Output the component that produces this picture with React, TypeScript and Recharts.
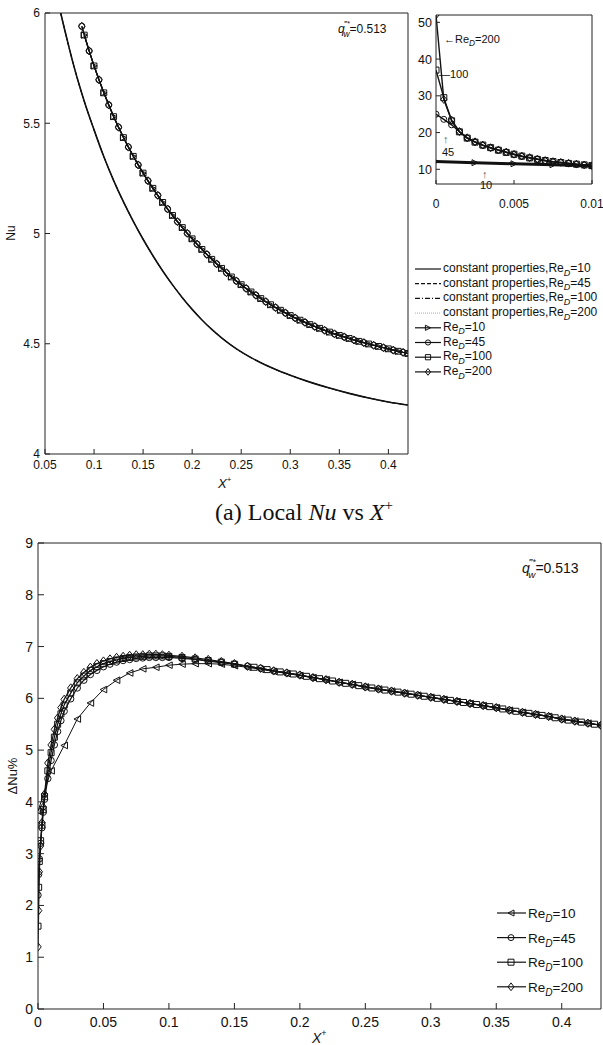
import React from "react";
import { LineChart, Line, XAxis, YAxis } from "recharts";

const FONT = "Arial, 'Liberation Sans', Helvetica, sans-serif";
const SERIF = "'Times New Roman', 'Liberation Serif', serif";
const INK = "#111";
const AXIS = "#222";

// ---- (a) Local Nu vs X+ ----
const nuTicksX = [0.05, 0.1, 0.15, 0.2, 0.25, 0.3, 0.35, 0.4];
const nuTicksY = [4, 4.5, 5, 5.5, 6];

// constant-property curves: all four Re_D fall on this one line
const constX = [0.066, 0.07, 0.075, 0.08, 0.085, 0.09, 0.1, 0.11, 0.12, 0.13, 0.14, 0.15, 0.16, 0.17, 0.18, 0.19, 0.2, 0.21, 0.22, 0.23, 0.24, 0.25, 0.26, 0.27, 0.28, 0.29, 0.3, 0.32, 0.34, 0.36, 0.38, 0.4, 0.42];
const constNu = [6.0, 5.925, 5.835, 5.75, 5.672, 5.6, 5.47, 5.348, 5.24, 5.143, 5.055, 4.974, 4.899, 4.83, 4.767, 4.709, 4.656, 4.608, 4.565, 4.527, 4.493, 4.463, 4.437, 4.414, 4.393, 4.374, 4.357, 4.326, 4.299, 4.275, 4.254, 4.236, 4.222];

// variable-property curves (markers), two interleaved sample grids
const varXA = [0.09, 0.1, 0.11, 0.12, 0.13, 0.14, 0.15, 0.16, 0.17, 0.18, 0.19, 0.2, 0.21, 0.22, 0.23, 0.24, 0.25, 0.26, 0.27, 0.28, 0.29, 0.3, 0.31, 0.32, 0.33, 0.34, 0.35, 0.36, 0.37, 0.38, 0.39, 0.4, 0.41, 0.42];
const varNuA = [5.9, 5.76, 5.638, 5.53, 5.435, 5.35, 5.274, 5.205, 5.141, 5.082, 5.027, 4.976, 4.928, 4.883, 4.842, 4.803, 4.768, 4.735, 4.705, 4.677, 4.652, 4.628, 4.607, 4.587, 4.57, 4.553, 4.538, 4.524, 4.511, 4.499, 4.488, 4.477, 4.466, 4.456];
const varXB = [0.0875, 0.095, 0.105, 0.115, 0.125, 0.135, 0.145, 0.155, 0.165, 0.175, 0.185, 0.195, 0.205, 0.215, 0.225, 0.235, 0.245, 0.255, 0.265, 0.275, 0.285, 0.295, 0.305, 0.315, 0.325, 0.335, 0.345, 0.355, 0.365, 0.375, 0.385, 0.395, 0.405, 0.415];
const varNuB = [5.94, 5.828, 5.697, 5.583, 5.482, 5.392, 5.311, 5.239, 5.173, 5.111, 5.054, 5.001, 4.952, 4.905, 4.862, 4.822, 4.785, 4.751, 4.72, 4.691, 4.664, 4.64, 4.617, 4.597, 4.578, 4.561, 4.545, 4.531, 4.517, 4.505, 4.493, 4.482, 4.471, 4.461];

// inset: entrance region
const insetTicksX = [0, 0.005, 0.01];
const insetTicksY = [10, 20, 30, 40, 50];
const insetX = [0, 0.0005, 0.001, 0.0015, 0.002, 0.0025, 0.003, 0.0035, 0.004, 0.0045, 0.005, 0.0055, 0.006, 0.0065, 0.007, 0.0075, 0.008, 0.0085, 0.009, 0.0095, 0.01];
const insetNu200 = [52, 29, 23.4, 20.3, 18.6, 17.5, 16.6, 15.9, 15.3, 14.7, 14.1, 13.6, 13.2, 12.8, 12.4, 12.1, 11.9, 11.65, 11.4, 11.2, 11.0];
const insetNu100 = [37, 29.5, 23.2, 20.2, 18.5, 17.4, 16.6, 15.9, 15.2, 14.6, 14.1, 13.6, 13.1, 12.7, 12.4, 12.1, 11.85, 11.6, 11.4, 11.2, 11.0];
const insetNu45 = [25, 23.6, 22.1, 20.2, 18.5, 17.4, 16.5, 15.8, 15.2, 14.6, 14.0, 13.5, 13.1, 12.7, 12.3, 12.0, 11.8, 11.6, 11.35, 11.15, 10.95];
const insetX10 = [0, 0.0025, 0.005, 0.0075, 0.01];
const insetNu10 = [12.1, 11.8, 11.5, 11.25, 11.0];

// ---- ΔNu% vs X+ ----
const dTicksX = [0, 0.05, 0.1, 0.15, 0.2, 0.25, 0.3, 0.35, 0.4];
const dTicksY = [0, 1, 2, 3, 4, 5, 6, 7, 8, 9];
const dX10 = [0, 0.01, 0.02, 0.03, 0.04, 0.05, 0.06, 0.07, 0.08, 0.09, 0.1, 0.11, 0.12, 0.13, 0.14, 0.15, 0.16, 0.17, 0.18, 0.19, 0.2, 0.21, 0.22, 0.23, 0.24, 0.25, 0.26, 0.27, 0.28, 0.29, 0.3, 0.31, 0.32, 0.33, 0.34, 0.35, 0.36, 0.37, 0.38, 0.39, 0.4, 0.41, 0.42, 0.43];
const dNu10 = [3.82, 4.6, 5.09, 5.6, 5.91, 6.17, 6.35, 6.49, 6.57, 6.6, 6.64, 6.66, 6.67, 6.67, 6.66, 6.63, 6.6, 6.56, 6.52, 6.48, 6.44, 6.4, 6.36, 6.31, 6.27, 6.22, 6.18, 6.14, 6.1, 6.06, 6.02, 5.98, 5.94, 5.9, 5.86, 5.82, 5.77, 5.73, 5.69, 5.65, 5.6, 5.56, 5.52, 5.48];
// near the wall
const dXHead = [0, 0.0005, 0.001, 0.002, 0.003, 0.004, 0.005];
const dNuHead45 = [2.2, 2.6, 2.9, 3.2, 3.5, 3.8, 4.05];
const dNuHead100 = [1.6, 2.35, 2.85, 3.25, 3.55, 3.85, 4.1];
const dNuHead200 = [1.2, 1.9, 2.65, 3.15, 3.6, 3.9, 4.15];
// rise and peak
const dXMid = [0.0075, 0.01, 0.0125, 0.015, 0.0175, 0.02, 0.025, 0.03, 0.035, 0.04, 0.045, 0.05, 0.055, 0.06, 0.065, 0.07, 0.075, 0.08, 0.085, 0.09, 0.095, 0.1, 0.11, 0.12, 0.13, 0.14, 0.15];
const dNuMid45 = [4.45, 4.8, 5.1, 5.36, 5.57, 5.75, 5.99, 6.2, 6.35, 6.46, 6.54, 6.61, 6.66, 6.7, 6.73, 6.75, 6.77, 6.78, 6.79, 6.79, 6.79, 6.79, 6.77, 6.75, 6.72, 6.69, 6.66];
const dNuMid100 = [4.6, 4.95, 5.25, 5.5, 5.7, 5.87, 6.1, 6.3, 6.43, 6.54, 6.61, 6.67, 6.71, 6.74, 6.77, 6.79, 6.8, 6.81, 6.82, 6.82, 6.82, 6.81, 6.79, 6.76, 6.73, 6.7, 6.66];
const dNuMid200 = [4.75, 5.1, 5.4, 5.62, 5.82, 5.98, 6.2, 6.38, 6.5, 6.6, 6.67, 6.72, 6.76, 6.79, 6.81, 6.83, 6.84, 6.84, 6.85, 6.85, 6.84, 6.83, 6.81, 6.78, 6.75, 6.71, 6.67];
// slow decay, two interleaved sample grids
const dXTailA = [0.16, 0.17, 0.18, 0.19, 0.2, 0.21, 0.22, 0.23, 0.24, 0.25, 0.26, 0.27, 0.28, 0.29, 0.3, 0.31, 0.32, 0.33, 0.34, 0.35, 0.36, 0.37, 0.38, 0.39, 0.4, 0.41, 0.42, 0.43];
const dNuTailA = [6.62, 6.58, 6.53, 6.49, 6.45, 6.4, 6.36, 6.31, 6.27, 6.22, 6.18, 6.14, 6.1, 6.06, 6.02, 5.98, 5.94, 5.9, 5.86, 5.82, 5.77, 5.73, 5.69, 5.65, 5.6, 5.56, 5.52, 5.48];
const dXTailB = [0.165, 0.175, 0.185, 0.195, 0.205, 0.215, 0.225, 0.235, 0.245, 0.255, 0.265, 0.275, 0.285, 0.295, 0.305, 0.315, 0.325, 0.335, 0.345, 0.355, 0.365, 0.375, 0.385, 0.395, 0.405, 0.415, 0.425];
const dNuTailB = [6.6, 6.555, 6.51, 6.47, 6.425, 6.38, 6.335, 6.29, 6.245, 6.2, 6.16, 6.12, 6.08, 6.04, 6.0, 5.96, 5.92, 5.88, 5.84, 5.795, 5.75, 5.71, 5.67, 5.625, 5.58, 5.54, 5.5];

type Pt = { x: number; y: number };
const zip = (xs: number[], ys: number[]): Pt[] => xs.map((x, i) => ({ x, y: ys[i] }));

type Shape = "right" | "left" | "circle" | "square" | "diamond";

function markerPath(shape: Shape, cx: number, cy: number, r: number) {
  switch (shape) {
    case "right":
      return `M${cx + r},${cy} L${cx - r},${cy - r} L${cx - r},${cy + r} Z`;
    case "left":
      return `M${cx - r},${cy} L${cx + r},${cy - r} L${cx + r},${cy + r} Z`;
    case "square":
      return `M${cx - r},${cy - r} h${2 * r} v${2 * r} h${-2 * r} Z`;
    default:
      return `M${cx},${cy - r * 1.3} L${cx + r},${cy} L${cx},${cy + r * 1.3} L${cx - r},${cy} Z`;
  }
}

function Marker({ shape, cx, cy, r }: { shape: Shape; cx: number; cy: number; r: number }) {
  if (shape === "circle") {
    return <circle cx={cx} cy={cy} r={r} fill="none" stroke={INK} strokeWidth={1} />;
  }
  return <path d={markerPath(shape, cx, cy, r)} fill="none" stroke={INK} strokeWidth={1} />;
}

const dot = (shape: Shape, r: number) => (p: any) => {
  const { cx, cy, index } = p;
  if (cx == null || cy == null) return <g key={`e${index}`} />;
  return (
    <g key={`m${index}`}>
      <Marker shape={shape} cx={cx} cy={cy} r={r} />
    </g>
  );
};

const tickStyle = (size: number) => ({ fontSize: size, fill: INK, fontFamily: FONT });

function Sub({ base, tail, size }: { base: string; tail: string; size: number }) {
  return (
    <>
      <tspan>{base}</tspan>
      <tspan fontStyle="italic" fontSize={size * 0.75} dy={size * 0.3}>D</tspan>
      <tspan dy={-size * 0.3}>{tail}</tspan>
    </>
  );
}

const topLegend: { label: string; tail: string; dash?: string; color?: string; shape?: Shape }[] = [
  { label: "constant properties,Re", tail: "=10" },
  { label: "constant properties,Re", tail: "=45", dash: "4 2" },
  { label: "constant properties,Re", tail: "=100", dash: "5 2 1 2" },
  { label: "constant properties,Re", tail: "=200", dash: "1 1", color: "#999" },
  { label: "Re", tail: "=10", shape: "right" },
  { label: "Re", tail: "=45", shape: "circle" },
  { label: "Re", tail: "=100", shape: "square" },
  { label: "Re", tail: "=200", shape: "diamond" },
];

const bottomLegend: { tail: string; shape: Shape }[] = [
  { tail: "=10", shape: "left" },
  { tail: "=45", shape: "circle" },
  { tail: "=100", shape: "square" },
  { tail: "=200", shape: "diamond" },
];

function QLabel({ x, y, size }: { x: number; y: number; size: number }) {
  return (
    <text x={x} y={y} fontSize={size} fontFamily={FONT} fill={INK}>
      <tspan fontStyle="italic">q</tspan>
      <tspan dy={-size * 0.55} fontSize={size * 0.6}>‴*</tspan>
      <tspan dx={-size * 0.55} dy={size * 0.9} fontSize={size * 0.7} fontStyle="italic">w</tspan>
      <tspan dy={-size * 0.35}>=0.513</tspan>
    </text>
  );
}

function Overlay() {
  return (
    <svg width={603} height={1045} style={{ position: "absolute", left: 0, top: 0, pointerEvents: "none" }}>
      {/* top panel titles */}
      <text transform="translate(15,233) rotate(-90)" textAnchor="middle" fontSize={12} fontFamily={FONT} fill={INK}>Nu</text>
      <text x={218} y={488} fontSize={13} fontFamily={FONT} fill={INK} fontStyle="italic">
        X<tspan dy={-6} fontSize={8} fontStyle="normal">+</tspan>
      </text>
      <QLabel x={338} y={33} size={12} />

      {/* inset notes */}
      <g fontSize={11} fontFamily={FONT} fill={INK}>
        <text x={444} y={43}>
          ←<Sub base="Re" tail="=200" size={11} />
        </text>
        <text x={439} y={78}>—100</text>
        <text x={443} y={143} fill="#555">↑</text>
        <text x={442} y={156}>45</text>
        <text x={482} y={178} fill="#555">↑</text>
        <text x={480} y={189}>10</text>
      </g>

      {/* top legend */}
      {topLegend.map((e, i) => {
        const y = 268 + i * 14.7;
        return (
          <g key={i}>
            <line x1={415} x2={441} y1={y + 1} y2={y + 1} stroke={e.color || INK} strokeWidth={e.color ? 0.8 : 1.2} strokeDasharray={e.dash} />
            {e.shape && <Marker shape={e.shape} cx={428} cy={y + 1} r={2.6} />}
            <text x={443} y={y + 4} fontSize={12} fontFamily={FONT} fill={INK}>
              <Sub base={e.label} tail={e.tail} size={12} />
            </text>
          </g>
        );
      })}

      {/* caption */}
      <text x={304} y={520} textAnchor="middle" fontSize={24} fontFamily={SERIF} fill={INK}>
        (a) Local <tspan fontStyle="italic">Nu</tspan> vs <tspan fontStyle="italic">X</tspan>
        <tspan dy={-10} fontSize={15}>+</tspan>
      </text>

      {/* bottom panel titles */}
      <text transform="translate(17,776) rotate(-90)" textAnchor="middle" fontSize={13} fontFamily={FONT} fill={INK}>ΔNu%</text>
      <text x={312} y={1043} fontSize={14} fontFamily={FONT} fill={INK} fontStyle="italic">
        X<tspan dy={-7} fontSize={9} fontStyle="normal">+</tspan>
      </text>
      <QLabel x={522} y={573} size={14} />

      {/* bottom legend */}
      {bottomLegend.map((e, i) => {
        const y = 913 + i * 24.6;
        return (
          <g key={i}>
            <line x1={497} x2={526} y1={y} y2={y} stroke={INK} strokeWidth={1.2} />
            <Marker shape={e.shape} cx={511} cy={y} r={3} />
            <text x={528} y={y + 5} fontSize={13.5} fontFamily={FONT} fill={INK}>
              <Sub base="Re" tail={e.tail} size={13.5} />
            </text>
          </g>
        );
      })}
    </svg>
  );
}

export default function App() {
  const constData = zip(constX, constNu);
  const varA = zip(varXA, varNuA);
  const varB = zip(varXB, varNuB);
  const d45 = zip([...dXHead, ...dXMid, ...dXTailA], [...dNuHead45, ...dNuMid45, ...dNuTailA]);
  const d100 = zip([...dXHead, ...dXMid, ...dXTailB], [...dNuHead100, ...dNuMid100, ...dNuTailB]);
  const d200 = zip([...dXHead, ...dXMid, ...dXTailA], [...dNuHead200, ...dNuMid200, ...dNuTailA]);

  return (
    <div style={{ position: "absolute", left: 0, top: 0, width: 603, height: 1045, background: "#fff" }}>
      {/* (a) main panel */}
      <div style={{ position: "absolute", left: 0, top: 0 }}>
        <LineChart width={420} height={500} margin={{ top: 13, right: 12, bottom: 16, left: 0 }}>
          <XAxis dataKey="x" type="number" domain={[0.05, 0.42]} ticks={nuTicksX} interval={0} allowDataOverflow
            height={30} tickSize={-5} tickMargin={11} stroke={AXIS} tick={tickStyle(12)} />
          <YAxis type="number" domain={[4, 6]} ticks={nuTicksY} interval={0} allowDataOverflow
            width={45} tickSize={-5} tickMargin={10} stroke={AXIS} tick={tickStyle(12)} />
          <XAxis xAxisId="top" orientation="top" mirror type="number" domain={[0.05, 0.42]} ticks={nuTicksX}
            interval={0} tick={false} tickSize={5} stroke={AXIS} allowDataOverflow />
          <YAxis yAxisId="right" orientation="right" mirror type="number" domain={[4, 6]} ticks={nuTicksY}
            interval={0} tick={false} tickSize={5} stroke={AXIS} allowDataOverflow />
          <Line data={constData} dataKey="y" type="monotone" stroke="#999" strokeWidth={0.8} strokeDasharray="1 1" dot={false} isAnimationActive={false} />
          <Line data={constData} dataKey="y" type="monotone" stroke={INK} strokeWidth={1} strokeDasharray="5 2 1 2" dot={false} isAnimationActive={false} />
          <Line data={constData} dataKey="y" type="monotone" stroke={INK} strokeWidth={1} strokeDasharray="4 2" dot={false} isAnimationActive={false} />
          <Line data={constData} dataKey="y" type="monotone" stroke={INK} strokeWidth={1.6} dot={false} isAnimationActive={false} />
          <Line data={varA} dataKey="y" type="monotone" stroke={INK} strokeWidth={1.2} dot={dot("right", 3.1)} isAnimationActive={false} />
          <Line data={varB} dataKey="y" type="monotone" stroke={INK} strokeWidth={1.2} dot={dot("circle", 3.1)} isAnimationActive={false} />
          <Line data={varA} dataKey="y" type="monotone" stroke={INK} strokeWidth={1.2} dot={dot("square", 2.9)} isAnimationActive={false} />
          <Line data={varB} dataKey="y" type="monotone" stroke={INK} strokeWidth={1.2} dot={dot("diamond", 3.1)} isAnimationActive={false} />
        </LineChart>
      </div>

      {/* inset */}
      <div style={{ position: "absolute", left: 410, top: 0 }}>
        <LineChart width={200} height={215} margin={{ top: 15, right: 18, bottom: 11, left: 0 }}>
          <XAxis dataKey="x" type="number" domain={[0, 0.01]} ticks={insetTicksX} interval={0} allowDataOverflow
            height={20} tickSize={-4} tickMargin={19} stroke={AXIS} tick={tickStyle(12)} />
          <YAxis type="number" domain={[6, 52]} ticks={insetTicksY} interval={0} allowDataOverflow
            width={26} tickSize={-4} tickMargin={8} stroke={AXIS} tick={tickStyle(12.5)} />
          <XAxis xAxisId="top" orientation="top" mirror type="number" domain={[0, 0.01]} ticks={insetTicksX}
            interval={0} tick={false} tickSize={4} stroke={AXIS} allowDataOverflow />
          <YAxis yAxisId="right" orientation="right" mirror type="number" domain={[6, 52]} ticks={insetTicksY}
            interval={0} tick={false} tickSize={4} stroke={AXIS} allowDataOverflow />
          <Line data={zip(insetX10, insetNu10)} dataKey="y" type="linear" stroke={INK} strokeWidth={3} dot={dot("right", 3)} isAnimationActive={false} />
          <Line data={zip(insetX, insetNu45)} dataKey="y" type="linear" stroke={INK} strokeWidth={1.4} dot={dot("circle", 3)} isAnimationActive={false} />
          <Line data={zip(insetX, insetNu100)} dataKey="y" type="linear" stroke={INK} strokeWidth={1.4} dot={dot("square", 3)} isAnimationActive={false} />
          <Line data={zip(insetX, insetNu200)} dataKey="y" type="linear" stroke={INK} strokeWidth={1.4} dot={dot("diamond", 3)} isAnimationActive={false} />
        </LineChart>
      </div>

      {/* ΔNu% panel */}
      <div style={{ position: "absolute", left: 0, top: 520 }}>
        <LineChart width={603} height={525} margin={{ top: 23, right: 2, bottom: 6, left: 0 }}>
          <XAxis dataKey="x" type="number" domain={[0, 0.43]} ticks={dTicksX} interval={0} allowDataOverflow
            height={30} tickSize={-6} tickMargin={14} stroke={AXIS} tick={tickStyle(14)} />
          <YAxis type="number" domain={[0, 9]} ticks={dTicksY} interval={0} allowDataOverflow
            width={38} tickSize={-6} tickMargin={11} stroke={AXIS} tick={tickStyle(14)} />
          <XAxis xAxisId="top" orientation="top" mirror type="number" domain={[0, 0.43]} ticks={dTicksX}
            interval={0} tick={false} tickSize={6} stroke={AXIS} allowDataOverflow />
          <YAxis yAxisId="right" orientation="right" mirror type="number" domain={[0, 9]} ticks={dTicksY}
            interval={0} tick={false} tickSize={6} stroke={AXIS} allowDataOverflow />
          <Line data={zip(dX10, dNu10)} dataKey="y" type="linear" stroke={INK} strokeWidth={1} dot={dot("left", 3.3)} isAnimationActive={false} />
          <Line data={d45} dataKey="y" type="linear" stroke={INK} strokeWidth={1.2} dot={dot("circle", 3.2)} isAnimationActive={false} />
          <Line data={d100} dataKey="y" type="linear" stroke={INK} strokeWidth={1.2} dot={dot("square", 3)} isAnimationActive={false} />
          <Line data={d200} dataKey="y" type="linear" stroke={INK} strokeWidth={1.2} dot={dot("diamond", 3.2)} isAnimationActive={false} />
        </LineChart>
      </div>

      <Overlay />
    </div>
  );
}
